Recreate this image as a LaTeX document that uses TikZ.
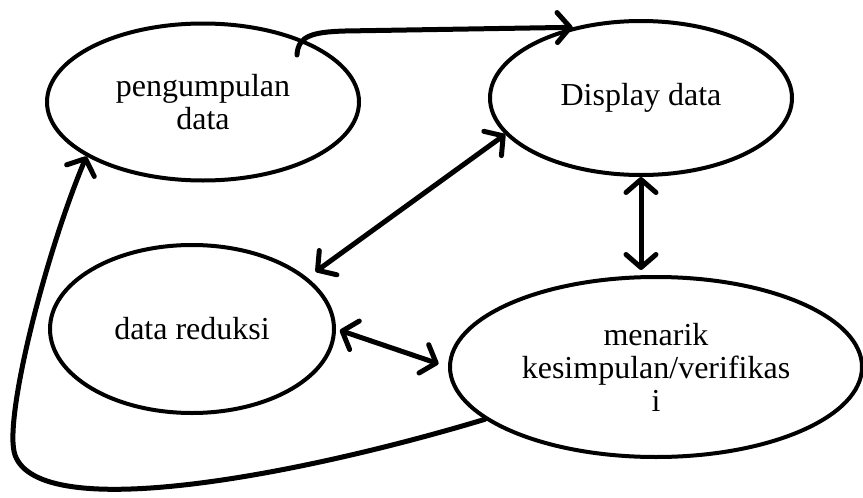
\documentclass[tikz,border=0pt]{standalone}
\usepackage{fontspec}
\setmainfont{Liberation Serif}
\usetikzlibrary{arrows.meta,shapes.geometric}

\begin{document}
\begin{tikzpicture}[
  x=1pt,y=-1pt,
  >={Straight Barb[length=13pt,width=30pt,round]},
  tahap/.style={draw,ellipse,line width=4pt,inner sep=0pt,align=center,
    font=\fontsize{32}{33}\selectfont},
  panah/.style={line width=5pt,line cap=round,line join=round},
]
\useasboundingbox (0,0) rectangle (863,498);
\node[tahap,minimum width=312pt,minimum height=157pt] (kumpul) at (203,102) {pengumpulan\\data};
\node[tahap,minimum width=302pt,minimum height=154pt] (display) at (641,98) {Display data};
\node[tahap,minimum width=284pt,minimum height=168pt] (reduksi) at (192,329) {data reduksi};
\node[tahap,minimum width=412pt,minimum height=180pt] (simpul) at (656,367) {menarik\\kesimpulan/verifikas\\i};
\coordinate (awal) at (297,55);
\draw[panah,->] (awal) .. controls (298,36) and (312,32) .. (345,31) -- (display.134);
\draw[panah,<->,shorten <=10pt] (reduksi.24) -- (display.195);
\draw[panah,<->,shorten >=5pt] (display.south) -- (display.south |- simpul.north);
\draw[panah,<->,shorten <=4pt,shorten >=10pt] (reduksi.east) -- (simpul.west);
\draw[panah,->] (simpul.197) .. controls (300,475) and (40,525) .. (15,455)
  .. controls (3,421) and (45,255) .. (kumpul.205);
\end{tikzpicture}
\end{document}
